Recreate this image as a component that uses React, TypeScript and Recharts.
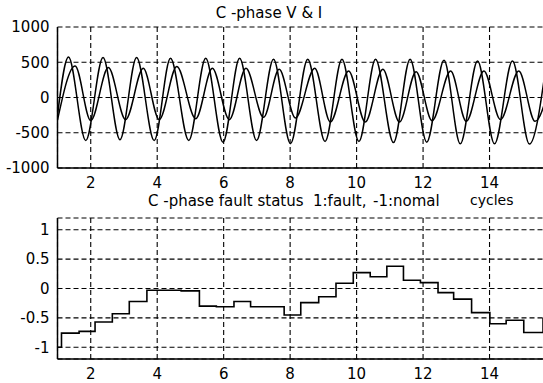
import React from 'react';
import { LineChart, Line, XAxis, YAxis, CartesianGrid } from 'recharts';

// x axis in cycles, shared by both panels
const cycleTicks = [2, 4, 6, 8, 10, 12, 14];
const viTicks = [-1000, -500, 0, 500, 1000];
const statusTicks = [-1, -0.5, 0, 0.5, 1];

// C-phase voltage (larger wave): peaks and troughs
const voltCycles = [1.0, 1.33, 1.85, 2.37, 2.88, 3.38, 3.91, 4.4, 4.95, 5.46, 5.98, 6.48, 6.99, 7.5, 8.01, 8.53, 9.05, 9.56, 10.07, 10.57, 11.11, 11.61, 12.11, 12.63, 13.12, 13.64, 14.15, 14.69, 15.2, 15.72];
const voltValues = [-250, 575, -610, 567, -600, 567, -610, 557, -610, 557, -633, 557, -610, 543, -655, 543, -624, 543, -624, 543, -639, 543, -633, 529, -657, 519, -657, 519, -661, 520];

// C-phase current (smaller, lagging wave)
const currCycles = [1.0, 1.53, 2.0, 2.53, 3.05, 3.58, 4.06, 4.59, 5.16, 5.66, 6.17, 6.67, 7.2, 7.67, 8.16, 8.74, 9.21, 9.76, 10.26, 10.79, 11.29, 11.79, 12.27, 12.83, 13.3, 13.83, 14.33, 14.88, 15.37, 15.9];
const currValues = [-320, 447, -329, 424, -314, 414, -314, 440, -300, 414, -314, 414, -281, 400, -290, 414, -347, 376, -347, 400, -347, 367, -329, 376, -338, 376, -314, 376, -338, 380];

// fault status, changes every half cycle
const statusCycles = [1.0, 1.12, 1.65, 2.13, 2.65, 3.16, 3.69, 4.2, 4.72, 5.27, 5.78, 6.31, 6.81, 7.32, 7.82, 8.32, 8.86, 9.38, 9.9, 10.41, 10.91, 11.41, 11.92, 12.45, 12.92, 13.46, 14.01, 14.5, 15.03, 15.61, 16.0];
const statusValues = [-1.0, -0.76, -0.73, -0.57, -0.43, -0.22, -0.03, -0.03, -0.04, -0.3, -0.31, -0.22, -0.31, -0.31, -0.45, -0.24, -0.14, 0.09, 0.27, 0.2, 0.38, 0.14, 0.1, -0.07, -0.18, -0.41, -0.6, -0.54, -0.75, -0.51, -0.51];

const volt = voltCycles.map((c, i) => ({ c, v: voltValues[i] }));
const curr = currCycles.map((c, i) => ({ c, v: currValues[i] }));
const status = statusCycles.map((c, i) => ({ c, v: statusValues[i] }));

const FONT = '"DejaVu Sans", Verdana, sans-serif';
const tickStyle = { fontFamily: FONT, fontSize: 15, fill: '#000' };
const frame = { stroke: '#000', strokeWidth: 1.5 };

const App = () => {
  return (
    <div style={{ position: 'fixed', left: 0, top: 0, width: 543, height: 383, overflow: 'hidden', background: '#fff' }}>
      <div style={{ position: 'absolute', left: 0, top: 0 }}>
        <LineChart width={600} height={200} margin={{ top: 27, right: 44, bottom: 12, left: 0 }}>
          <CartesianGrid stroke="#000" strokeWidth={1.1} strokeDasharray="5 3" />
          <XAxis dataKey="c" type="number" domain={[1, 16]} ticks={cycleTicks} interval={0} tickMargin={3}
            allowDataOverflow height={20} axisLine={frame} tickLine={false} tick={tickStyle} />
          <XAxis xAxisId="top" orientation="top" type="number" domain={[1, 16]} height={0}
            axisLine={frame} tickLine={false} tick={false} />
          <YAxis type="number" domain={[-1000, 1000]} ticks={viTicks} interval={0} width={57.5}
            allowDataOverflow axisLine={frame} tickLine={false} tick={tickStyle} />
          <Line data={volt} dataKey="v" type="monotone" stroke="#000" strokeWidth={1.5} dot={false} isAnimationActive={false} />
          <Line data={curr} dataKey="v" type="monotone" stroke="#000" strokeWidth={1.5} dot={false} isAnimationActive={false} />
        </LineChart>
      </div>
      <div style={{ position: 'absolute', left: 0, top: 190 }}>
        <LineChart width={600} height={193} margin={{ top: 28, right: 44, bottom: 4, left: 0 }}>
          <CartesianGrid stroke="#000" strokeWidth={1.1} strokeDasharray="5 3" />
          <XAxis dataKey="c" type="number" domain={[1, 16]} ticks={cycleTicks} interval={0} tickMargin={3}
            allowDataOverflow height={20} axisLine={frame} tickLine={false} tick={tickStyle} />
          <XAxis xAxisId="top" orientation="top" type="number" domain={[1, 16]} height={0}
            axisLine={frame} tickLine={false} tick={false} />
          <YAxis type="number" domain={[-1.2, 1.2]} ticks={statusTicks} interval={0} width={57.5}
            allowDataOverflow axisLine={frame} tickLine={false} tick={tickStyle} />
          <Line data={status} dataKey="v" type="stepAfter" stroke="#000" strokeWidth={1.6} dot={false} isAnimationActive={false} />
        </LineChart>
      </div>
      <svg width={543} height={383} style={{ position: 'absolute', left: 0, top: 0, pointerEvents: 'none' }}>
        <g fontFamily={FONT} fontSize={15} fill="#000">
          <text x={269} y={18} textAnchor="middle">C -phase V &amp; I</text>
          <text x={148} y={206}>C -phase fault status</text>
          <text x={313} y={206}>1:fault,</text>
          <text x={373} y={206}>-1:nomal</text>
          <text x={470} y={205} fontSize={14}>cycles</text>
        </g>
      </svg>
    </div>
  );
};

export default App;
